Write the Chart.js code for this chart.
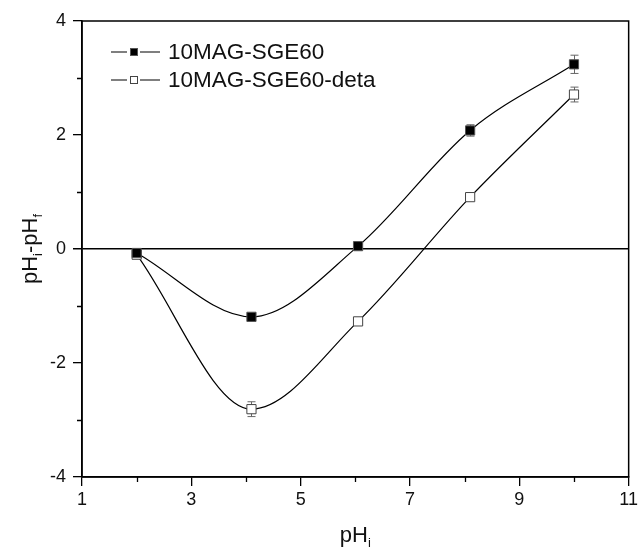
<!DOCTYPE html>
<html>
<head>
<meta charset="utf-8">
<script src="https://cdn.jsdelivr.net/npm/chart.js@4.4.1/dist/chart.umd.min.js"></script>
<style>
  html, body { margin: 0; padding: 0; background: #fff; }
  #wrap { width: 641px; height: 556px; }
</style>
</head>
<body>
<div id="wrap"><canvas id="chart" width="641" height="556"></canvas></div>
<script>
// values
const phValues = [2.0, 4.1, 6.05, 8.1, 10.0];
const sgeValues = [-0.07, -1.19, 0.05, 2.08, 3.24];
const detaValues = [-0.1, -2.81, -1.27, 0.91, 2.71];
const sgeErrors = [0.04, 0.04, 0.03, 0.1, 0.16];
const detaErrors = [0.04, 0.13, 0.03, 0.05, 0.13];
const xTickLabels = [1, 3, 5, 7, 9, 11];
const yTickLabels = [-4, -2, 0, 2, 4];
const seriesNames = ['10MAG-SGE60', '10MAG-SGE60-deta'];

const FONT = 'Liberation Sans, Arial, sans-serif';

function points(ys) {
  return phValues.map((x, i) => ({x: x, y: ys[i]}));
}

// vertical error bars with caps
const errorBars = {
  id: 'errorBars',
  beforeDatasetsDraw(chart) {
    const ctx = chart.ctx;
    const xs = chart.scales.x, ys = chart.scales.y;
    const sets = [[sgeValues, sgeErrors], [detaValues, detaErrors]];
    ctx.save();
    ctx.strokeStyle = '#666';
    ctx.lineWidth = 1;
    sets.forEach(([vals, errs]) => {
      vals.forEach((v, i) => {
        const px = Math.round(xs.getPixelForValue(phValues[i])) + 0.5;
        const top = ys.getPixelForValue(v + errs[i]);
        const bot = ys.getPixelForValue(v - errs[i]);
        ctx.beginPath();
        ctx.moveTo(px, top); ctx.lineTo(px, bot);
        ctx.moveTo(px - 4, top); ctx.lineTo(px + 4, top);
        ctx.moveTo(px - 4, bot); ctx.lineTo(px + 4, bot);
        ctx.stroke();
      });
    });
    ctx.restore();
  }
};

function drawParts(ctx, parts, x, y, size) {
  const small = Math.round(size * 0.6);
  let total = 0;
  parts.forEach(p => {
    ctx.font = (p[1] ? small : size) + 'px ' + FONT;
    total += ctx.measureText(p[0]).width;
  });
  let cx = x - total / 2;
  parts.forEach(p => {
    ctx.font = (p[1] ? small : size) + 'px ' + FONT;
    ctx.fillText(p[0], cx, p[1] ? y + size * 0.35 : y);
    cx += ctx.measureText(p[0]).width;
  });
}

// frame, short minor ticks, axis titles and legend
const decorations = {
  id: 'decorations',
  afterDraw(chart) {
    const ctx = chart.ctx;
    const a = chart.chartArea;
    const xs = chart.scales.x, ys = chart.scales.y;
    ctx.save();
    ctx.strokeStyle = '#000';
    ctx.lineWidth = 1.5;
    ctx.strokeRect(a.left, a.top, a.right - a.left, a.bottom - a.top);

    ctx.lineWidth = 1.3;
    ctx.beginPath();
    xs.ticks.forEach(t => {
      if (xTickLabels.includes(t.value)) return;
      const px = Math.round(xs.getPixelForValue(t.value)) + 0.5;
      ctx.moveTo(px, a.bottom); ctx.lineTo(px, a.bottom + 5);
    });
    ys.ticks.forEach(t => {
      if (yTickLabels.includes(t.value)) return;
      const py = Math.round(ys.getPixelForValue(t.value)) + 0.5;
      ctx.moveTo(a.left, py); ctx.lineTo(a.left - 5, py);
    });
    ctx.stroke();

    ctx.fillStyle = '#111';
    ctx.textBaseline = 'middle';
    ctx.textAlign = 'left';
    drawParts(ctx, [['pH', false], ['i', true]], (a.left + a.right) / 2, 536, 22);

    ctx.translate(31, (a.top + a.bottom) / 2);
    ctx.rotate(-Math.PI / 2);
    drawParts(ctx, [['pH', false], ['i', true], ['-pH', false], ['f', true]], 0, 0, 22);
    ctx.restore();

    // legend
    ctx.save();
    chart.data.datasets.forEach((ds, i) => {
      const y = 52 + i * 28;
      ctx.strokeStyle = '#000';
      ctx.lineWidth = 1.2;
      ctx.beginPath();
      ctx.moveTo(111, y); ctx.lineTo(127, y);
      ctx.moveTo(140, y); ctx.lineTo(160, y);
      ctx.stroke();
      ctx.fillStyle = ds.pointBackgroundColor;
      ctx.strokeStyle = ds.pointBorderColor;
      ctx.lineWidth = 1;
      ctx.fillRect(130.5, y - 3.5, 7, 7);
      ctx.strokeRect(130.5, y - 3.5, 7, 7);
      ctx.fillStyle = '#111';
      ctx.font = '22.5px ' + FONT;
      ctx.textBaseline = 'middle';
      ctx.fillText(ds.label, 168, y + 1);
    });
    ctx.restore();
  }
};

new Chart(document.getElementById('chart'), {
  type: 'line',
  data: {
    datasets: [
      {
        label: seriesNames[0],
        data: points(sgeValues),
        borderColor: '#000',
        borderWidth: 1.2,
        cubicInterpolationMode: 'monotone',
        pointStyle: 'rect',
        pointRadius: 6.5,
        pointBackgroundColor: '#000',
        pointBorderColor: '#555',
        pointBorderWidth: 1
      },
      {
        label: seriesNames[1],
        data: points(detaValues),
        borderColor: '#000',
        borderWidth: 1.2,
        cubicInterpolationMode: 'monotone',
        pointStyle: 'rect',
        pointRadius: 6.5,
        pointBackgroundColor: '#fff',
        pointBorderColor: '#444',
        pointBorderWidth: 1
      }
    ]
  },
  options: {
    responsive: false,
    animation: false,
    layout: {padding: {left: 48, right: 9, top: 21, bottom: 45}},
    plugins: {legend: {display: false}, tooltip: {enabled: false}},
    scales: {
      x: {
        type: 'linear',
        min: 1, max: 11,
        afterFit: s => { s.height = 34; },
        border: {color: '#000', width: 1.5},
        grid: {
          color: 'rgba(0,0,0,0)',
          tickColor: c => xTickLabels.includes(c.tick.value) ? '#000' : 'rgba(0,0,0,0)',
          tickLength: 9,
          lineWidth: 1.3
        },
        ticks: {
          stepSize: 1,
          padding: 3,
          color: '#111',
          font: {family: FONT, size: 18},
          maxRotation: 0,
          callback: v => xTickLabels.includes(v) ? String(v) : ''
        }
      },
      y: {
        min: -4, max: 4,
        afterFit: s => { s.width = 34; },
        border: {color: '#000', width: 1.5},
        grid: {
          color: c => c.tick && c.tick.value === 0 ? '#000' : 'rgba(0,0,0,0)',
          lineWidth: c => c.tick && c.tick.value === 0 ? 1.5 : 1.3,
          tickColor: c => yTickLabels.includes(c.tick.value) ? '#000' : 'rgba(0,0,0,0)',
          tickLength: 9
        },
        ticks: {
          stepSize: 1,
          padding: 7,
          color: '#111',
          font: {family: FONT, size: 18},
          callback: v => yTickLabels.includes(v) ? String(v) : ''
        }
      }
    }
  },
  plugins: [errorBars, decorations]
});
</script>
</body>
</html>
